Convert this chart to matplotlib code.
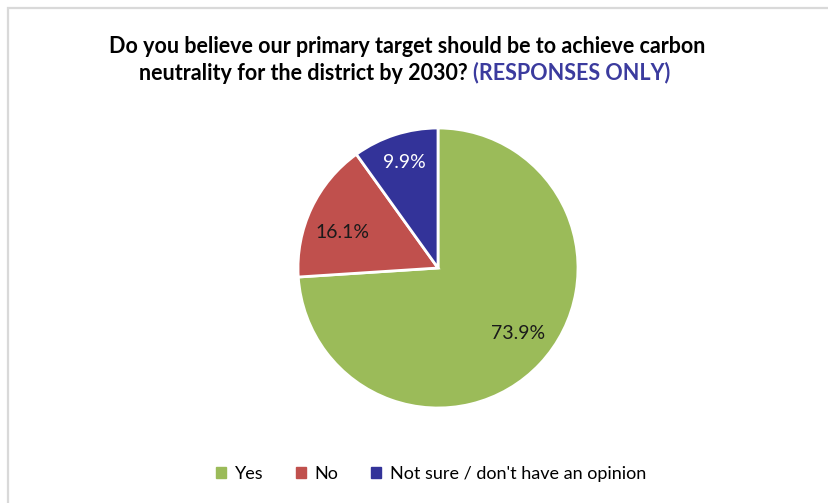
import matplotlib
matplotlib.use("Agg")
import matplotlib.pyplot as plt
from matplotlib.patches import Rectangle
import numpy as np

labels = ["Yes", "No", "Not sure / don't have an opinion"]
shares = [73.9, 16.1, 9.9]
colors = ["#9BBB59", "#C0504D", "#333399"]
pct_colors = ["#1a1a1a", "#1a1a1a", "white"]

title_line1 = "Do you believe our primary target should be to achieve carbon"
title_line2 = "neutrality for the district by 2030? "
title_note = "(RESPONSES ONLY)"

plt.rcParams["font.family"] = ["Lato", "DejaVu Sans"]

W, H = 829, 503
fig = plt.figure(figsize=(W / 100, H / 100), dpi=100)

# chart-area frame, cut off at right and bottom
fig.patches.append(Rectangle((8.5 / W, -0.1), 1.2, 1.1 - 8.5 / H, transform=fig.transFigure,
                             fill=False, edgecolor="#D9D9D9", linewidth=1.6))

cx, cy, r = 438, 268, 140
ax = fig.add_axes([(cx - r) / W, (H - cy - r) / H, 2 * r / W, 2 * r / H])
wedges, _ = ax.pie(shares, colors=colors, startangle=90, counterclock=False, radius=1,
                   wedgeprops=dict(edgecolor="white", linewidth=2))
ax.set_xlim(-1, 1)
ax.set_ylim(-1, 1)
ax.set_aspect("equal")
ax.axis("off")

# value labels placed inside each wedge (radius, angular nudge in degrees)
label_r = [0.74, 0.73, 0.79]
label_nudge = [4, 5, 0]
for w, v, c, lr, dn in zip(wedges, shares, pct_colors, label_r, label_nudge):
    mid = np.deg2rad((w.theta1 + w.theta2) / 2 + dn)
    ax.text(lr * np.cos(mid), lr * np.sin(mid), f"{v:.1f}%", ha="center", va="center",
            fontsize=14, color=c)

title_kw = dict(va="center", fontsize=15.5, fontweight="bold")
fig.text(407 / W, 1 - 46 / H, title_line1, ha="center", color="black", **title_kw)
renderer = fig.canvas.get_renderer()
t_a = fig.text(0, 1 - 73 / H, title_line2, ha="left", color="black", **title_kw)
t_b = fig.text(0, 1 - 73 / H, title_note, ha="left", color="#3B3B9E", **title_kw)
wa = t_a.get_window_extent(renderer).width
wb = t_b.get_window_extent(renderer).width
x0 = 405 - (wa + wb) / 2
t_a.set_x(x0 / W)
t_b.set_x((x0 + wa) / W)

handles = [Rectangle((0, 0), 1, 1, color=c) for c in colors]
fig.legend(handles, labels, loc="center", bbox_to_anchor=(431 / W, 1 - 474 / H), ncol=3,
           frameon=False, fontsize=13, handlelength=0.55, handleheight=0.55,
           handletextpad=0.5, columnspacing=1.8)

fig.savefig("out.png", dpi=100, facecolor="white")
